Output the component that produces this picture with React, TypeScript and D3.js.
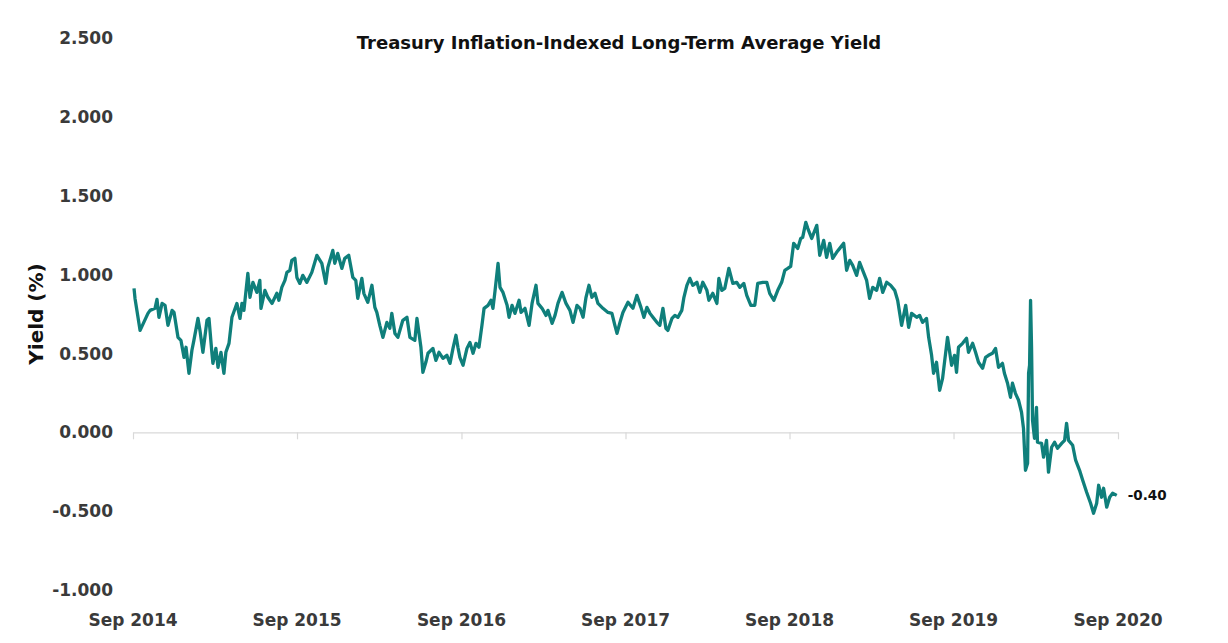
import * as d3 from "d3";
import { useEffect, useRef } from "react";

// [decimal year, yield %]
const sep14toSep15: [number, number][] = [
  [2014.672, 0.913], [2014.678, 0.849], [2014.709, 0.646], [2014.757, 0.754], [2014.77, 0.773],
  [2014.8, 0.786], [2014.812, 0.843], [2014.824, 0.729], [2014.843, 0.817], [2014.861, 0.805],
  [2014.879, 0.678], [2014.904, 0.773], [2014.916, 0.76], [2014.94, 0.602], [2014.958, 0.583],
  [2014.977, 0.475], [2014.989, 0.539], [2015.007, 0.374], [2015.025, 0.52], [2015.037, 0.583],
  [2015.062, 0.722], [2015.074, 0.646], [2015.092, 0.507], [2015.117, 0.71], [2015.129, 0.722],
  [2015.147, 0.501], [2015.153, 0.437], [2015.171, 0.532], [2015.184, 0.412], [2015.202, 0.507],
  [2015.22, 0.374], [2015.232, 0.507], [2015.251, 0.564], [2015.269, 0.729], [2015.299, 0.817],
  [2015.318, 0.722], [2015.33, 0.817], [2015.342, 0.773], [2015.366, 1.008], [2015.379, 0.856],
  [2015.397, 0.951], [2015.421, 0.887], [2015.439, 0.963], [2015.446, 0.786], [2015.47, 0.9],
  [2015.488, 0.856], [2015.513, 0.817], [2015.543, 0.881], [2015.555, 0.837], [2015.573, 0.919],
  [2015.592, 0.963], [2015.604, 1.014], [2015.622, 1.027], [2015.634, 1.09], [2015.653, 1.103],
];

const sep15toSep16: [number, number][] = [
  [2015.665, 0.982], [2015.683, 0.944], [2015.701, 0.995], [2015.726, 0.951], [2015.756, 1.014],
  [2015.787, 1.122], [2015.817, 1.071], [2015.841, 0.944], [2015.854, 1.046], [2015.884, 1.153],
  [2015.896, 1.071], [2015.914, 1.134], [2015.939, 1.039], [2015.957, 1.103], [2015.981, 1.122],
  [2016.006, 0.982], [2016.024, 0.963], [2016.036, 0.849], [2016.061, 0.976], [2016.073, 0.881],
  [2016.097, 0.824], [2016.122, 0.932], [2016.14, 0.792], [2016.152, 0.76], [2016.17, 0.678],
  [2016.189, 0.602], [2016.213, 0.697], [2016.231, 0.659], [2016.243, 0.754], [2016.262, 0.627],
  [2016.28, 0.602], [2016.31, 0.71], [2016.335, 0.729], [2016.353, 0.602], [2016.383, 0.583],
  [2016.396, 0.722], [2016.42, 0.539], [2016.432, 0.38], [2016.45, 0.444], [2016.463, 0.501],
  [2016.493, 0.532], [2016.511, 0.456], [2016.53, 0.507], [2016.554, 0.469], [2016.578, 0.488],
  [2016.597, 0.437], [2016.615, 0.532], [2016.633, 0.615], [2016.645, 0.539],
];

const sep16toSep17: [number, number][] = [
  [2016.657, 0.475], [2016.676, 0.425], [2016.7, 0.532], [2016.718, 0.57], [2016.737, 0.501],
  [2016.755, 0.564], [2016.773, 0.539], [2016.791, 0.678], [2016.804, 0.786], [2016.828, 0.805],
  [2016.846, 0.837], [2016.858, 0.786], [2016.871, 0.9], [2016.889, 1.071], [2016.901, 0.919],
  [2016.919, 0.887], [2016.944, 0.805], [2016.956, 0.729], [2016.974, 0.805], [2016.992, 0.754],
  [2017.017, 0.837], [2017.029, 0.76], [2017.053, 0.786], [2017.078, 0.678], [2017.096, 0.817],
  [2017.12, 0.932], [2017.132, 0.817], [2017.157, 0.786], [2017.181, 0.741], [2017.193, 0.773],
  [2017.218, 0.691], [2017.236, 0.741], [2017.254, 0.817], [2017.279, 0.887], [2017.303, 0.817],
  [2017.327, 0.773], [2017.346, 0.697], [2017.37, 0.805], [2017.388, 0.786], [2017.407, 0.729],
  [2017.425, 0.856], [2017.443, 0.932], [2017.461, 0.856], [2017.48, 0.881], [2017.498, 0.817],
  [2017.528, 0.786], [2017.559, 0.76], [2017.583, 0.754], [2017.601, 0.678], [2017.614, 0.627],
  [2017.632, 0.697], [2017.65, 0.76],
];

const sep17toSep18: [number, number][] = [
  [2017.681, 0.824], [2017.711, 0.786], [2017.735, 0.868], [2017.76, 0.792], [2017.778, 0.729],
  [2017.796, 0.792], [2017.815, 0.754], [2017.833, 0.729], [2017.857, 0.697], [2017.875, 0.678],
  [2017.894, 0.786], [2017.912, 0.659], [2017.924, 0.646], [2017.949, 0.722], [2017.967, 0.741],
  [2017.985, 0.729], [2018.009, 0.773], [2018.022, 0.856], [2018.04, 0.932], [2018.058, 0.976],
  [2018.076, 0.932], [2018.101, 0.951], [2018.119, 0.887], [2018.137, 0.951], [2018.162, 0.9],
  [2018.174, 0.837], [2018.198, 0.881], [2018.223, 0.817], [2018.235, 0.976], [2018.253, 0.9],
  [2018.271, 0.913], [2018.296, 1.039], [2018.32, 0.944], [2018.344, 0.951], [2018.363, 0.919],
  [2018.387, 0.944], [2018.405, 0.868], [2018.43, 0.805], [2018.454, 0.805], [2018.472, 0.944],
  [2018.503, 0.951], [2018.527, 0.951], [2018.545, 0.881], [2018.57, 0.837], [2018.594, 0.9],
  [2018.618, 0.951], [2018.637, 1.027], [2018.655, 1.039],
];

const sep18toSep19: [number, number][] = [
  [2018.673, 1.052], [2018.691, 1.198], [2018.716, 1.166], [2018.734, 1.229], [2018.746, 1.236],
  [2018.765, 1.331], [2018.777, 1.293], [2018.801, 1.229], [2018.832, 1.312], [2018.85, 1.122],
  [2018.874, 1.217], [2018.892, 1.109], [2018.911, 1.198], [2018.929, 1.103], [2018.953, 1.141],
  [2018.972, 1.166], [2018.996, 1.198], [2019.014, 1.027], [2019.033, 1.09], [2019.051, 1.058],
  [2019.075, 0.995], [2019.093, 1.077], [2019.112, 1.027], [2019.136, 0.963], [2019.154, 0.849],
  [2019.173, 0.919], [2019.197, 0.9], [2019.215, 0.976], [2019.234, 0.887], [2019.258, 0.951],
  [2019.282, 0.932], [2019.307, 0.9], [2019.325, 0.837], [2019.349, 0.678], [2019.374, 0.805],
  [2019.392, 0.665], [2019.41, 0.754], [2019.441, 0.729], [2019.459, 0.741], [2019.477, 0.697],
  [2019.501, 0.722], [2019.514, 0.602], [2019.532, 0.488], [2019.544, 0.374], [2019.562, 0.444],
  [2019.581, 0.266], [2019.599, 0.342], [2019.629, 0.602], [2019.654, 0.425],
];

const sep19toSep20: [number, number][] = [
  [2019.672, 0.488], [2019.684, 0.38], [2019.696, 0.539], [2019.721, 0.564], [2019.745, 0.596],
  [2019.757, 0.507], [2019.782, 0.564], [2019.8, 0.507], [2019.818, 0.444], [2019.843, 0.406],
  [2019.861, 0.475], [2019.879, 0.488], [2019.903, 0.501], [2019.922, 0.532], [2019.94, 0.412],
  [2019.964, 0.437], [2019.976, 0.374], [2019.995, 0.311], [2020.013, 0.222], [2020.025, 0.311],
  [2020.043, 0.247], [2020.062, 0.203], [2020.08, 0.127], [2020.092, 0.025], [2020.104, -0.241],
  [2020.117, -0.196], [2020.123, 0.374], [2020.129, 0.425], [2020.135, 0.837], [2020.141, 0.539],
  [2020.147, 0.076], [2020.159, -0.038], [2020.171, 0.158], [2020.177, -0.063], [2020.202, -0.07],
  [2020.214, -0.158], [2020.232, -0.051], [2020.244, -0.253], [2020.263, -0.095], [2020.281, -0.063],
  [2020.299, -0.101], [2020.324, -0.07], [2020.342, -0.051], [2020.354, 0.057], [2020.366, -0.051],
  [2020.391, -0.082], [2020.409, -0.177], [2020.433, -0.241], [2020.452, -0.304], [2020.476, -0.38],
  [2020.5, -0.45], [2020.518, -0.513], [2020.537, -0.45], [2020.549, -0.336], [2020.567, -0.412],
  [2020.579, -0.355], [2020.598, -0.475], [2020.616, -0.412], [2020.634, -0.387], [2020.659, -0.4],
];

const xTickLabels = ["Sep 2014", "Sep 2015", "Sep 2016", "Sep 2017", "Sep 2018", "Sep 2019", "Sep 2020"];
const yTicks = [-1, -0.5, 0, 0.5, 1, 1.5, 2, 2.5];
const title = "Treasury Inflation-Indexed Long-Term Average Yield";
const yTitle = "Yield (%)";
const lastLabel = "-0.40";

const series = [
  ...sep14toSep15,
  ...sep15toSep16,
  ...sep16toSep17,
  ...sep17toSep18,
  ...sep18toSep19,
  ...sep19toSep20,
];

// decimal year -> Date
const toDate = (t: number) => {
  const yr = Math.floor(t);
  const a = new Date(yr, 0, 1).getTime();
  const b = new Date(yr + 1, 0, 1).getTime();
  return new Date(a + (t - yr) * (b - a));
};

const FONT = "'DejaVu Sans', sans-serif";
const TEAL = "#0f7f7b";

export default function App() {
  const ref = useRef<SVGSVGElement>(null);

  useEffect(() => {
    const svg = d3.select(ref.current);
    svg.selectAll("*").remove();

    const tickDates = xTickLabels.map((_, i) => new Date(2014 + i, 8, 1));

    const x = d3
      .scaleTime()
      .domain([tickDates[0], tickDates[tickDates.length - 1]])
      .range([133, 1118]);
    const y = d3.scaleLinear().domain([-1, 2.5]).range([590, 38]);

    // zero axis with ticks
    const axis = svg
      .append("g")
      .attr("transform", `translate(0, ${y(0)})`)
      .call(
        d3
          .axisBottom(x)
          .tickValues(tickDates)
          .tickSize(7)
          .tickSizeOuter(0)
          .tickFormat(() => "")
      );
    axis.selectAll("path, line").attr("stroke", "#d9d9d9").attr("stroke-width", 1.2);

    // y labels
    svg
      .append("g")
      .selectAll("text")
      .data(yTicks)
      .enter()
      .append("text")
      .attr("x", 113)
      .attr("y", (d) => y(d))
      .attr("dy", "0.36em")
      .attr("text-anchor", "end")
      .attr("font-family", FONT)
      .attr("font-weight", "bold")
      .attr("font-size", 17)
      .attr("fill", "#3a3a3a")
      .text((d) => d3.format(".3f")(d).replace("−", "-"));

    // x labels
    svg
      .append("g")
      .selectAll("text")
      .data(xTickLabels)
      .enter()
      .append("text")
      .attr("x", (_, i) => x(tickDates[i]))
      .attr("y", 626)
      .attr("text-anchor", "middle")
      .attr("font-family", FONT)
      .attr("font-weight", "bold")
      .attr("font-size", 17)
      .attr("fill", "#3a3a3a")
      .text((d) => d);

    // title
    svg
      .append("text")
      .attr("x", 619)
      .attr("y", 49)
      .attr("text-anchor", "middle")
      .attr("font-family", FONT)
      .attr("font-weight", "bold")
      .attr("font-size", 18)
      .attr("fill", "#111")
      .text(title);

    // y axis title
    svg
      .append("text")
      .attr("transform", `translate(43, ${y(0.75)}) rotate(-90)`)
      .attr("text-anchor", "middle")
      .attr("font-family", FONT)
      .attr("font-weight", "bold")
      .attr("font-size", 20)
      .attr("fill", "#111")
      .text(yTitle);

    // series line
    const line = d3
      .line<[number, number]>()
      .x((d) => x(toDate(d[0])))
      .y((d) => y(d[1]));

    svg
      .append("path")
      .datum(series)
      .attr("d", line)
      .attr("fill", "none")
      .attr("stroke", TEAL)
      .attr("stroke-width", 3.3)
      .attr("stroke-linejoin", "round");

    // end value label
    const last = series[series.length - 1];
    svg
      .append("text")
      .attr("x", x(toDate(last[0])) + 11)
      .attr("y", y(last[1]))
      .attr("dy", "0.36em")
      .attr("font-family", FONT)
      .attr("font-weight", "bold")
      .attr("font-size", 13.5)
      .attr("fill", "#111")
      .text(lastLabel);
  }, []);

  return (
    <svg
      ref={ref}
      width={1228}
      height={643}
      style={{ position: "absolute", left: 0, top: 0, background: "#fff" }}
    />
  );
}
